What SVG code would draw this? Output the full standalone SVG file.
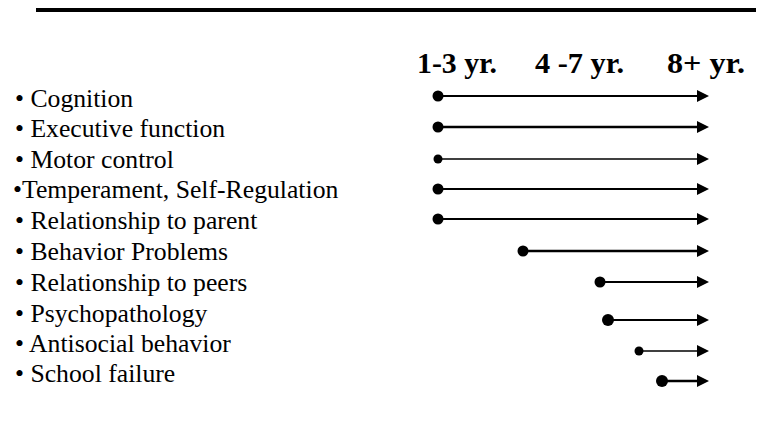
<svg xmlns="http://www.w3.org/2000/svg" width="784" height="429" viewBox="0 0 784 429">
<style>
.lbl{font-family:"Liberation Serif","Times New Roman",serif;font-size:25.7px;fill:#000}
.hdr{font-family:"Liberation Serif","Times New Roman",serif;font-size:30px;font-weight:bold;fill:#000}
.ln{stroke:#000;fill:none}
.dot{fill:#000}
</style>
<defs>
<marker id="ah" markerUnits="userSpaceOnUse" markerWidth="12" markerHeight="12" refX="0" refY="6" orient="auto" viewBox="0 0 12 12">
<path d="M0,0 L12,6 L0,12 z" fill="#000"/>
</marker>
</defs>
<rect x="36" y="8" width="720" height="4" fill="#000"/>
<g id="header">
<text class="hdr" x="417" y="73" textLength="80" lengthAdjust="spacingAndGlyphs">1-3 yr.</text>
<text class="hdr" x="535" y="73" textLength="89" lengthAdjust="spacingAndGlyphs">4 -7 yr.</text>
<text class="hdr" x="667" y="73" textLength="78" lengthAdjust="spacingAndGlyphs">8+ yr.</text>
</g>
<g id="labels">
<text id="n1" class="lbl" x="15" y="107">• Cognition</text>
<text id="n2" class="lbl" x="15" y="137">• Executive function</text>
<text id="n3" class="lbl" x="15" y="168">• Motor control</text>
<text id="n4" class="lbl" x="13" y="198">•Temperament, Self-Regulation</text>
<text id="n5" class="lbl" x="15" y="229">• Relationship to parent</text>
<text id="n6" class="lbl" x="15" y="260">• Behavior Problems</text>
<text id="n7" class="lbl" x="15" y="291">• Relationship to peers</text>
<text id="n8" class="lbl" x="15" y="322">• Psychopathology</text>
<text id="n9" class="lbl" x="15" y="352">• Antisocial behavior</text>
<text id="n10" class="lbl" x="15" y="382">• School failure</text>
</g>
<g id="connectors">
<line class="ln" x1="438" y1="96" x2="697" y2="96" stroke-width="2" marker-end="url(#ah)"/>
<circle class="dot" cx="438" cy="96" r="5.5"/>
<line class="ln" x1="438" y1="127" x2="697" y2="127" stroke-width="2.5" marker-end="url(#ah)"/>
<circle class="dot" cx="438" cy="127" r="5.5"/>
<line class="ln" x1="438" y1="159" x2="697" y2="159" stroke-width="1.5" marker-end="url(#ah)"/>
<circle class="dot" cx="438" cy="159" r="4.5"/>
<line class="ln" x1="438" y1="189" x2="697" y2="189" stroke-width="2" marker-end="url(#ah)"/>
<circle class="dot" cx="438" cy="189" r="5.5"/>
<line class="ln" x1="438" y1="219" x2="697" y2="219" stroke-width="2" marker-end="url(#ah)"/>
<circle class="dot" cx="438" cy="219" r="5.5"/>
<line class="ln" x1="523" y1="251" x2="697" y2="251" stroke-width="2.5" marker-end="url(#ah)"/>
<circle class="dot" cx="523" cy="251" r="5.5"/>
<line class="ln" x1="600" y1="282" x2="697" y2="282" stroke-width="2" marker-end="url(#ah)"/>
<circle class="dot" cx="600" cy="282" r="5.5"/>
<line class="ln" x1="608" y1="320" x2="697" y2="320" stroke-width="2" marker-end="url(#ah)"/>
<circle class="dot" cx="608" cy="320" r="6"/>
<line class="ln" x1="639" y1="351" x2="697" y2="351" stroke-width="1.5" marker-end="url(#ah)"/>
<circle class="dot" cx="639" cy="351" r="4.5"/>
<line class="ln" x1="662" y1="381" x2="697" y2="381" stroke-width="2.5" marker-end="url(#ah)"/>
<circle class="dot" cx="662" cy="381" r="6"/>
</g>
</svg>
